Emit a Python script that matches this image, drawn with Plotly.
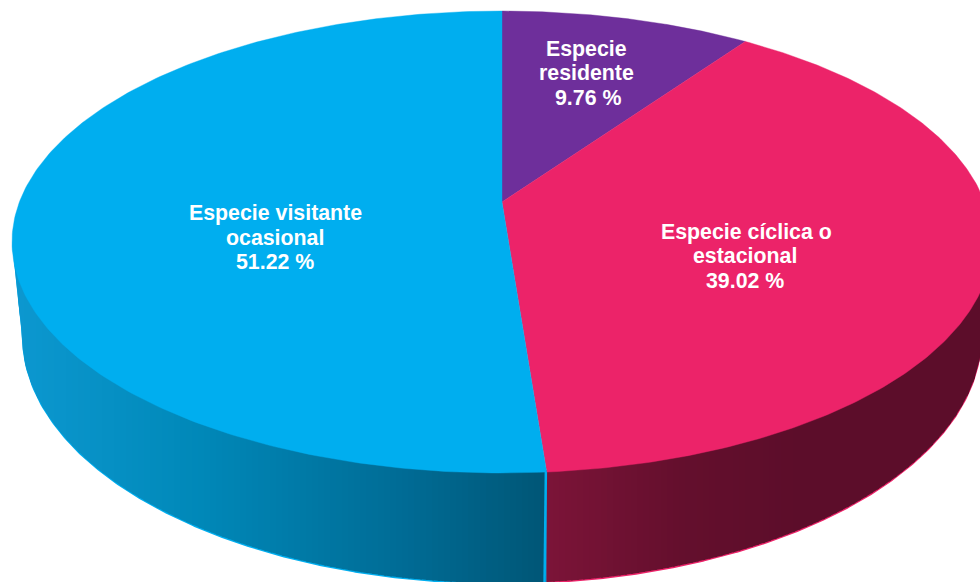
import numpy as np
import plotly.graph_objects as go

# Shares of each residence category, clockwise from twelve o'clock
categories = ["Especie residente", "Especie cíclica o estacional", "Especie visitante ocasional"]
shares = [9.76, 39.02, 51.22]
top_colors = ["#6E2F9B", "#EC2369", "#00AEEF"]

# Label lines: (text, x centre, y centre) in pixel-sized axis units
label_lines = [
    ("Especie", 586, 49), ("residente", 586, 73), ("9.76 %", 588, 98),
    ("Especie cíclica o", 746, 232), ("estacional", 745, 256), ("39.02 %", 745, 281),
    ("Especie visitante", 275, 213), ("ocasional", 275, 238), ("51.22 %", 275, 262),
]

# Side-wall shading stops: x position -> RGB
blue_stops_x = [15, 200, 400, 545]
blue_stops_rgb = [(12, 152, 208), (0, 136, 184), (0, 108, 150), (0, 86, 118)]
red_stops_x = [545, 680, 800, 985]
red_stops_rgb = [(124, 20, 56), (100, 15, 45), (92, 13, 42), (92, 13, 42)]

# Pie geometry
TOP = dict(cx=502, cy=242, rx=490, ry=231)
BOTTOM = dict(cx=502, cy=335, rx=480, ry=248)
TILT = 40 / 231  # perspective shift of the pie centre inside the top ellipse
COLUMN_WIDTH = 6


def perspective(theta):
    """Clockwise angle on the flat disc -> (u, v) on the foreshortened unit disc."""
    u, v = np.sin(theta), np.cos(theta)
    d = 1 + TILT * v
    return u * np.sqrt(1 - TILT ** 2) / d, (v + TILT) / d


def on_ellipse(e, u, v):
    return e["cx"] + e["rx"] * u, e["cy"] - e["ry"] * v


def shade(x, xs, rgbs):
    c = [np.interp(x, xs, [r[i] for r in rgbs]) for i in range(3)]
    return "rgb({:.0f},{:.0f},{:.0f})".format(*c)


def polygon(x, y, color, width=0.0):
    return go.Scatter(
        x=x, y=y, mode="lines", fill="toself", fillcolor=color,
        line=dict(color=color, width=width), hoverinfo="skip", showlegend=False,
    )


def top_front_y(x):
    """Front half of the top ellipse at x."""
    t = np.clip((x - TOP["cx"]) / TOP["rx"], -1, 1)
    return TOP["cy"] + TOP["ry"] * np.sqrt(1 - t ** 2)


def lower_edge_y(x):
    """Lower silhouette of the wall: bottom ellipse joined to the top ellipse extremes."""
    phi = np.linspace(np.pi / 2, 3 * np.pi / 2, 400)[::-1]
    bx, by = on_ellipse(BOTTOM, np.sin(phi), np.cos(phi))
    left = TOP["cx"] - TOP["rx"]
    right = TOP["cx"] + TOP["rx"]
    return np.interp(x, np.r_[left, bx, right], np.r_[TOP["cy"], by, TOP["cy"]])


def wall(x_start, x_end, base_color, xs, rgbs):
    """Side wall between two x positions: rim colour underneath, shaded columns above.

    Each column runs a little under its right-hand neighbour so no rim colour
    shows through at the joins.
    """
    traces = []
    x = np.linspace(x_start, x_end, 300)
    rim = 1.5
    traces.append(polygon(np.r_[x, x[::-1]],
                          np.r_[top_front_y(x) - 2, (lower_edge_y(x) + rim)[::-1]], base_color))
    edges = np.r_[np.arange(np.ceil(x_start), x_end, COLUMN_WIDTH), x_end]
    for a, b in zip(edges[:-1], edges[1:]):
        right = min(b + 2, x_end)
        cx = np.linspace(a, right, 6)
        color = shade(0.5 * (a + b), xs, rgbs)
        traces.append(polygon(np.r_[cx, cx[::-1]],
                              np.r_[top_front_y(cx) - 2, lower_edge_y(cx)[::-1]], color))
    return traces


fractions = np.cumsum([0] + shares) / sum(shares)
angles = 2 * np.pi * fractions

fig = go.Figure()

# Side walls meet where the pink and blue slices end on the front rim
seam_u, seam_v = perspective(angles[2])
sx1, sy1 = on_ellipse(TOP, seam_u, seam_v)
sx2, sy2 = on_ellipse(BOTTOM, seam_u, seam_v)
for tr in wall(TOP["cx"] - TOP["rx"], sx1, top_colors[2], blue_stops_x, blue_stops_rgb):
    fig.add_trace(tr)
for tr in wall(sx1, TOP["cx"] + TOP["rx"], top_colors[1], red_stops_x, red_stops_rgb):
    fig.add_trace(tr)

# Light seam line at the front edge, drawn on top of the walls
fig.add_trace(go.Scatter(
    x=[sx1 - 0.8, sx2 - 1.2], y=[sy1, sy2 + 2], mode="lines",
    line=dict(color=top_colors[2], width=2.5), hoverinfo="skip", showlegend=False,
))

# Top face of each slice
apex_x, apex_y = on_ellipse(TOP, 0.0, TILT)
for i in range(len(shares)):
    th = np.linspace(angles[i], angles[i + 1], 240)
    u, v = perspective(th)
    x, y = on_ellipse(TOP, u, v)
    fig.add_trace(polygon(np.r_[apex_x, x, apex_x], np.r_[apex_y, y, apex_y], top_colors[i], width=0.4))

for text, x, y in label_lines:
    fig.add_annotation(
        x=x, y=y, text=text, showarrow=False, xanchor="center", yanchor="middle",
        font=dict(family="Liberation Sans", size=21.33, color="white", weight="bold"),
    )

fig.update_layout(
    width=980, height=582, autosize=False,
    margin=dict(l=0, r=0, t=0, b=0),
    paper_bgcolor="white", plot_bgcolor="white", showlegend=False,
    xaxis=dict(range=[0, 980], visible=False, fixedrange=True),
    yaxis=dict(range=[582, 0], visible=False, fixedrange=True),
)
fig.write_html("out.html", config=dict(displayModeBar=False))
